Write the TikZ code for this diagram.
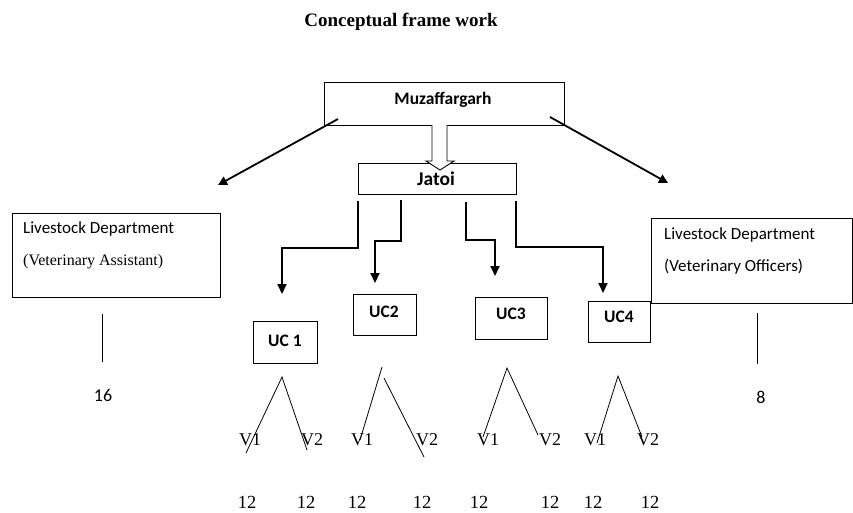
\documentclass[tikz,border=0pt]{standalone}
\usepackage{fontspec}
\setmainfont{Liberation Serif}
\newfontfamily\calfont{Carlito}
\usetikzlibrary{arrows.meta}
\begin{document}
\begin{tikzpicture}[x=1pt,y=-1pt,
  box/.style={draw, line width=1.1pt, inner sep=0pt},
  ucbox/.style={box},
  uctext/.style={inner sep=0pt, font=\calfont\bfseries\fontsize{17.5}{19}\selectfont},
  lbl/.style={inner sep=0pt, anchor=west, font=\calfont\fontsize{17}{19}\selectfont},
  bigarrow/.style={line width=1.8pt, -{Triangle[length=9pt,width=9pt]}},
  conn/.style={line width=2pt, -{Triangle[length=10pt,width=9pt]}},
  branch/.style={line width=0.8pt},
  vlbl/.style={inner sep=0pt, font=\fontsize{18}{20}\selectfont},
  num/.style={inner sep=0pt, font=\fontsize{18.5}{20}\selectfont}]
\useasboundingbox (0,0) rectangle (853,512);

% title
\node[inner sep=0pt, font=\bfseries\fontsize{19}{22}\selectfont] (title) at (401,22) {Conceptual frame work};

% Muzaffargarh
\node[box, minimum width=240pt, minimum height=43pt, anchor=north west] (muz) at (324,82) {};
\node[uctext] (muzt) at (443,100) {Muzaffargarh};

% Jatoi
\node[box, minimum width=158pt, minimum height=31pt, anchor=north west] (jat) at (358,163) {};
\node[inner sep=0pt, font=\calfont\bfseries\fontsize{19.5}{21}\selectfont] (jatt) at (436,179) {Jatoi};

% hollow arrow
\draw[line width=0.9pt, fill=white] (432,125) -- (432,161) -- (426,161) -- (440,170) -- (454,161) -- (447,161) -- (447,125);

% left box
\node[box, minimum width=208pt, minimum height=84pt, anchor=north west] (lva) at (12,213) {};
\node[lbl] (lva1) at (23,229) {Livestock Department};
\node[lbl, font=\fontsize{16}{18}\selectfont] (lva2) at (23,262) {(Veterinary Assistant)};
\coordinate (lvatop) at (102,314);
\coordinate (lvabot) at (102,362);
\draw[line width=1pt] (lvatop) -- (lvabot);
\node[inner sep=0pt, font=\calfont\fontsize{18}{20}\selectfont] (n16) at (103,395) {16};

% right box
\node[box, minimum width=201pt, minimum height=85pt, anchor=north west] (lvo) at (651,218) {};
\node[lbl] (lvo1) at (664,235) {Livestock Department};
\node[lbl] (lvo2) at (664,267) {(Veterinary Officers)};
\coordinate (lvotop) at (757,313);
\coordinate (lvobot) at (757,364);
\draw[line width=1pt] (lvotop) -- (lvobot);
\node[inner sep=0pt, font=\calfont\fontsize{18}{20}\selectfont] (n8) at (761,397) {8};

% arrows from Muzaffargarh
\coordinate (la) at (218,185);
\coordinate (ra) at (668,183);
\draw[bigarrow] (338,119) -- (la);
\draw[bigarrow] (550,117) -- (ra);

% UC boxes
\node[ucbox, minimum width=64pt, minimum height=42pt, anchor=north west] (uc1) at (253,321) {};
\node[uctext] at (285,341) {UC 1};
\node[ucbox, minimum width=63pt, minimum height=41pt, anchor=north west] (uc2) at (353,294) {};
\node[uctext] at (384,312) {UC2};
\node[ucbox, minimum width=72pt, minimum height=42pt, anchor=north west] (uc3) at (475,297) {};
\node[uctext] at (511,314) {UC3};
\node[ucbox, minimum width=62pt, minimum height=41pt, anchor=north west] (uc4) at (588,301) {};
\node[uctext] at (619,317) {UC4};

% Jatoi connectors
\draw[conn] (358,201) -- (358,248) -- (282,248) -- (282,294);
\draw[conn] (401,200) -- (401,241) -- (375,241) -- (375,283);
\draw[conn] (466,202) -- (466,240) -- (495,240) -- (495,276);
\draw[conn] (516,201) -- (516,247) -- (603,247) -- (603,293);

% branches
\draw[branch] (246,453) -- (282,377) -- (307,450);
\draw[branch] (360,440) -- (382,367);
\draw[branch] (384,378) -- (424,457);
\draw[branch] (483,437) -- (507,368) -- (538,435);
\draw[branch] (597,443) -- (618,376) -- (642,437);

% V labels
\foreach \x/\t [count=\i] in {250/V1,312/V2,362/V1,427/V2,488/V1,550/V2,595/V1,648/V2}
  \node[vlbl] (v\i) at (\x,440) {\t};
\foreach \x [count=\i] in {247,306,357,422,479,550,593,650}
  \node[num] (w\i) at (\x,502) {12};
\end{tikzpicture}
\end{document}
